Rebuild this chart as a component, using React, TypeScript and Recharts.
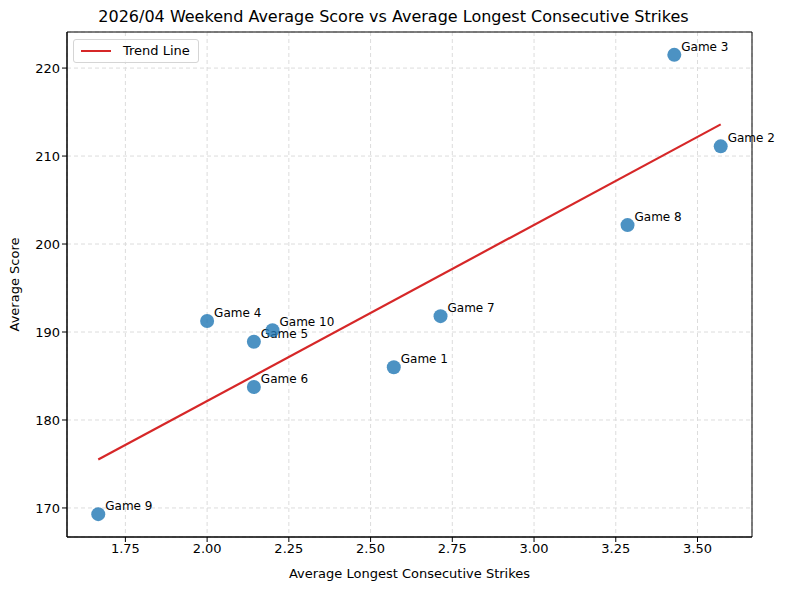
import { ScatterChart, Scatter, XAxis, YAxis, CartesianGrid, ReferenceArea } from 'recharts';

const games = ['Game 1', 'Game 2', 'Game 3', 'Game 4', 'Game 5', 'Game 6', 'Game 7', 'Game 8', 'Game 9', 'Game 10'];
const avgStrikes = [2.571, 3.571, 3.429, 2.0, 2.143, 2.143, 2.714, 3.286, 1.667, 2.2];
const avgScores = [186.0, 211.1, 221.5, 191.25, 188.9, 183.75, 191.8, 202.15, 169.3, 190.2];

const trendX = [1.667, 3.571];
const trendY = [175.5, 213.6];

const xTicks = [1.75, 2.0, 2.25, 2.5, 2.75, 3.0, 3.25, 3.5];
const yTicks = [170, 180, 190, 200, 210, 220];

const X_DOMAIN: [number, number] = [1.5714, 3.6667];
const Y_DOMAIN: [number, number] = [166.7, 224.1];

const points = games.map((name, i) => ({ name, x: avgStrikes[i], y: avgScores[i] }));
const trend = trendX.map((x, i) => ({ x, y: trendY[i] }));

const FONT = 'DejaVu Sans, sans-serif';

function GamePoint(props: any) {
  const { cx, cy, payload } = props;
  if (cx == null || cy == null) return null;
  return (
    <g>
      <circle cx={cx} cy={cy} r={7} fill="#1f77b4" fillOpacity={0.8} />
      <text x={cx + 7} y={cy - 4} fontSize={12} fontFamily={FONT} fill="#000">
        {payload.name}
      </text>
    </g>
  );
}

function TrendLegend() {
  return (
    <div
      style={{
        position: 'absolute',
        top: 39,
        left: 73,
        border: '1px solid #d5d5d5',
        borderRadius: 3,
        background: 'rgba(255,255,255,0.8)',
        padding: '3px 8px 4px 7px',
        display: 'flex',
        alignItems: 'center',
        fontFamily: FONT,
        fontSize: 13,
        color: '#000',
      }}
    >
      <span style={{ display: 'inline-block', width: 30, height: 2, background: '#d62728', marginRight: 12 }} />
      Trend Line
    </div>
  );
}

export default function App() {
  return (
    <div style={{ position: 'absolute', top: 0, left: 0, width: 787, height: 590, background: '#fff' }}>
      <div
        style={{
          position: 'absolute',
          top: 7,
          left: 0,
          width: 787,
          textAlign: 'center',
          fontFamily: FONT,
          fontSize: 16,
          color: '#000',
        }}
      >
        2026/04 Weekend Average Score vs Average Longest Consecutive Strikes
      </div>
      <ScatterChart width={787} height={590} margin={{ top: 32, right: 35, bottom: 0, left: 0 }}>
        <CartesianGrid stroke="#dcdcdc" strokeDasharray="4 3" vertical horizontal />
        <XAxis
          type="number"
          dataKey="x"
          domain={X_DOMAIN}
          ticks={xTicks}
          height={53}
          tickFormatter={(v: number) => v.toFixed(2)}
          tick={{ fill: '#000', fontSize: 13, fontFamily: FONT }}
          tickSize={5}
          stroke="#000"
          label={{ value: 'Average Longest Consecutive Strikes', position: 'insideBottom', offset: 12, style: { fill: '#000', fontSize: 13, fontFamily: FONT } }}
        />
        <YAxis
          type="number"
          dataKey="y"
          domain={Y_DOMAIN}
          ticks={yTicks}
          width={67}
          tick={{ fill: '#000', fontSize: 13, fontFamily: FONT }}
          tickSize={5}
          stroke="#000"
          label={{ value: 'Average Score', angle: -90, position: 'insideLeft', offset: 14, style: { textAnchor: 'middle', fill: '#000', fontSize: 13, fontFamily: FONT } }}
        />
        <ReferenceArea x1={X_DOMAIN[0]} x2={X_DOMAIN[1]} y1={Y_DOMAIN[0]} y2={Y_DOMAIN[1]} fill="none" stroke="#000" strokeWidth={1} ifOverflow="visible" />
        <Scatter
          name="Trend Line"
          data={trend}
          line={{ stroke: '#d62728', strokeWidth: 2.2 }}
          shape={() => null}
          legendType="line"
          isAnimationActive={false}
        />
        <Scatter name="Games" data={points} shape={GamePoint} legendType="none" isAnimationActive={false} />
      </ScatterChart>
      <TrendLegend />
    </div>
  );
}
